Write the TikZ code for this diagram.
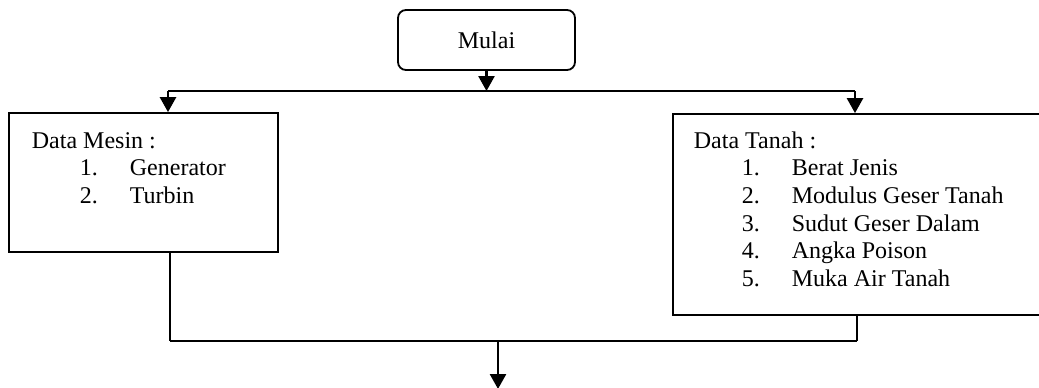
\documentclass[tikz,border=0pt]{standalone}
\usepackage{fontspec}
\setmainfont{Liberation Serif}
\usetikzlibrary{arrows.meta}
\begin{document}
\begin{tikzpicture}[x=0.5pt, y=-0.5pt,
  line width=0.9pt,
  every node/.style={font=\fontsize{12}{13.8}\selectfont},
  start/.style={draw, rounded corners=4pt, minimum width=88.5pt, minimum height=30pt, inner sep=0pt},
  databox/.style={draw, inner sep=0pt},
  list/.style={anchor=north west, inner sep=0pt, align=left},
  arr/.style={-{Triangle[length=7.5pt,width=8pt]}, line width=1.3pt}
]
\clip (0,0) rectangle (1039,387);
\node[start] (mulai) at (486.5,40) {Mulai};
\node[databox, minimum width=134.5pt, minimum height=69.5pt] (mesin) at (143.5,182.5) {};
\node[databox, minimum width=193.5pt, minimum height=100.5pt] (tanah) at (866.5,214.5) {};
\node[list] (lmesin) at (31,128) {\begin{tabular}{@{}p{24pt}@{}p{25pt}@{}l@{}}
  \multicolumn{3}{@{}l@{}}{Data Mesin :}\\
  & 1. & Generator\\
  & 2. & Turbin
\end{tabular}};
\node[list] (ltanah) at (693,128) {\begin{tabular}{@{}p{24pt}@{}p{25pt}@{}l@{}}
  \multicolumn{3}{@{}l@{}}{Data Tanah :}\\
  & 1. & Berat Jenis\\
  & 2. & Modulus Geser Tanah\\
  & 3. & Sudut Geser Dalam\\
  & 4. & Angka Poison\\
  & 5. & Muka Air Tanah
\end{tabular}};
\coordinate (split) at (486.5,91);
\coordinate (tl) at (168,91);
\coordinate (tr) at (855,91);
\coordinate (bl) at (170,341);
\coordinate (br) at (857,341);
\coordinate (join) at (498,341);
\coordinate (fin) at (498,389);
\draw[arr] (mulai.south) -- (split);
\draw (tl) -- (tr);
\draw[arr] (tl) -- (tl |- mesin.north);
\draw[arr] (tr) -- (tr |- tanah.north);
\draw (mesin.south -| bl) -- (bl);
\draw (tanah.south -| br) -- (br);
\draw (bl) -- (br);
\draw[arr] (join) -- (fin);
\end{tikzpicture}
\end{document}
